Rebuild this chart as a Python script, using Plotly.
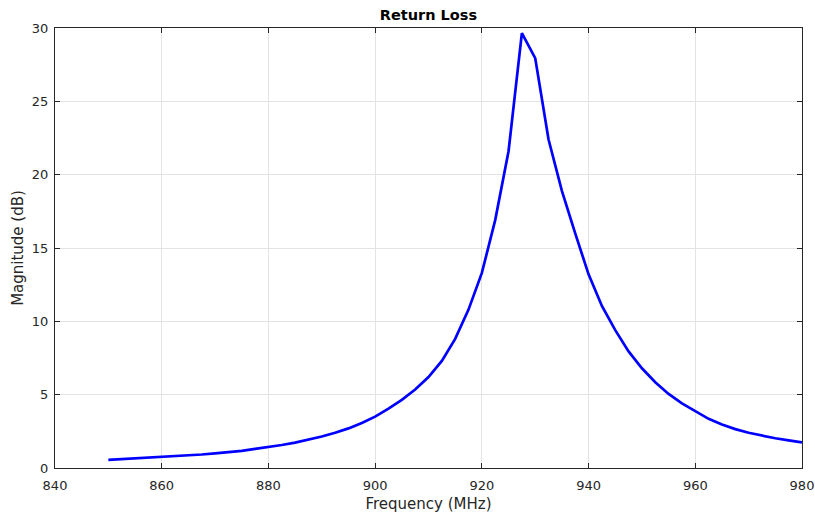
import plotly.graph_objects as go

freq_mhz = [850 + 2.5 * i for i in range(53)]
return_loss_db = [
    0.55, 0.60, 0.64, 0.69, 0.73, 0.79, 0.85, 0.92, 1.00, 1.08,
    1.17, 1.30, 1.42, 1.57, 1.73, 1.92, 2.15, 2.40, 2.70, 3.07,
    3.50, 4.05, 4.65, 5.35, 6.20, 7.30, 8.80, 10.80, 13.30, 16.90,
    21.60, 29.65, 27.95, 22.40, 18.90, 16.00, 13.20, 11.05, 9.40, 7.95,
    6.80, 5.85, 5.05, 4.40, 3.85, 3.35, 2.97, 2.65, 2.40, 2.20,
    2.03, 1.88, 1.75,
]
x_ticks = [840, 860, 880, 900, 920, 940, 960, 980]
y_ticks = [0, 5, 10, 15, 20, 25, 30]

FONT = "DejaVu Sans"
DARK = "#262626"

fig = go.Figure()
fig.add_trace(go.Scatter(
    x=freq_mhz, y=return_loss_db, mode="lines",
    line=dict(color="#0000FF", width=2.7),
    hoverinfo="skip", showlegend=False,
))

axis_common = dict(
    showline=True, linecolor=DARK, linewidth=1, mirror="ticks",
    ticks="inside", ticklen=5, tickcolor=DARK, tickwidth=1,
    showgrid=True, gridcolor="#E3E3E3", gridwidth=1,
    zeroline=False, automargin=False,
    tickfont=dict(family=FONT, size=13, color=DARK),
)

fig.update_layout(
    width=815, height=514,
    margin=dict(l=55, r=13, t=28, b=46),
    paper_bgcolor="white", plot_bgcolor="white",
    title=dict(text="<b>Return Loss</b>", x=0.5257, xanchor="center",
               y=1 - 15 / 514, yanchor="middle",
               font=dict(family=FONT, size=14.5, color="black")),
    xaxis=dict(range=[840, 980], tickvals=x_ticks, ticklabelstandoff=5,
               title=dict(text="Frequency (MHz)", standoff=6,
                          font=dict(family=FONT, size=15, color=DARK)),
               **axis_common),
    yaxis=dict(range=[0, 30], tickvals=y_ticks, ticklabelstandoff=3,
               title=dict(text="Magnitude (dB)", standoff=4,
                          font=dict(family=FONT, size=15, color=DARK)),
               **axis_common),
)

fig.write_html("out.html")
